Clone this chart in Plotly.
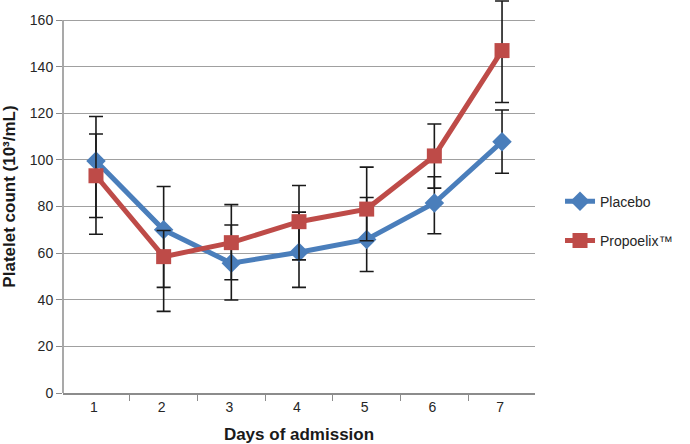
import plotly.graph_objects as go

days = ["1", "2", "3", "4", "5", "6", "7"]
placebo = [99.5, 70.0, 55.7, 60.4, 65.9, 81.5, 107.8]
placebo_err_plus = [19.1, 18.6, 16.4, 17.2, 18.0, 11.3, 13.6]
placebo_err_minus = [24.2, 24.7, 15.8, 15.1, 13.8, 13.2, 13.5]
propoelix = [93.2, 58.5, 64.5, 73.5, 78.9, 101.7, 146.9]
propoelix_err_plus = [17.9, 11.2, 16.3, 15.5, 18.0, 13.7, 21.3]
propoelix_err_minus = [25.1, 23.5, 15.9, 16.4, 13.6, 13.8, 22.3]
y_ticks = [0, 20, 40, 60, 80, 100, 120, 140, 160]

blue = "#4a7ebb"
red = "#be4b48"
font = "Liberation Sans, Arial, sans-serif"

fig = go.Figure()
fig.add_trace(go.Scatter(
    x=days, y=placebo, name="Placebo", mode="lines+markers",
    line=dict(color=blue, width=5),
    marker=dict(symbol="diamond", size=15, color=blue),
    error_y=dict(type="data", symmetric=False, array=placebo_err_plus,
                 arrayminus=placebo_err_minus, color="#1a1a1a", thickness=1.6, width=7),
    legendgroup="a",
))
fig.add_trace(go.Scatter(
    x=days, y=propoelix, name="Propoelix\u2122", mode="lines+markers",
    line=dict(color=red, width=5),
    marker=dict(symbol="square", size=15, color=red),
    error_y=dict(type="data", symmetric=False, array=propoelix_err_plus,
                 arrayminus=propoelix_err_minus, color="#1a1a1a", thickness=1.6, width=7),
    legendgroup="b",
))

# y axis line only up to the top tick (160)
fig.add_shape(type="line", xref="paper", yref="y", x0=0, x1=0, y0=0, y1=y_ticks[-1],
              line=dict(color="#8c8c8c", width=1.5), layer="below")

fig.update_layout(
    width=690, height=444,
    margin=dict(l=63, r=155, t=0, b=51, autoexpand=False),
    paper_bgcolor="white", plot_bgcolor="white",
    font=dict(family=font, size=14, color="#262626"),
    showlegend=True,
    legend=dict(x=1.053, y=0.437, xanchor="left", yanchor="middle",
                font=dict(size=14, color="#262626"), tracegroupgap=18,
                bgcolor="rgba(0,0,0,0)"),
    xaxis=dict(
        type="category", tickson="boundaries", ticks="outside", ticklen=6,
        tickcolor="#8c8c8c", showline=True, linecolor="#8c8c8c", linewidth=1.5,
        showgrid=False, tickfont=dict(size=14), automargin=False, ticklabelshift=-2,
        title=dict(text="<b>Days of admission</b>", font=dict(size=17, color="#1a1a1a")),
    ),
    yaxis=dict(
        range=[0, 168.6], tickvals=y_ticks, ticks="outside", ticklen=6,
        tickcolor="#8c8c8c", showline=False,
        showgrid=True, gridcolor="#a0a0a0", gridwidth=1.2, zeroline=False,
        tickfont=dict(size=14), automargin=False,
        title=dict(text="<b>Platelet count (10³/mL)</b>", font=dict(size=17, color="#1a1a1a")),
    ),
)

fig.write_html("out.html", config={"displayModeBar": False},
               post_script="document.body.style.margin='0';")
